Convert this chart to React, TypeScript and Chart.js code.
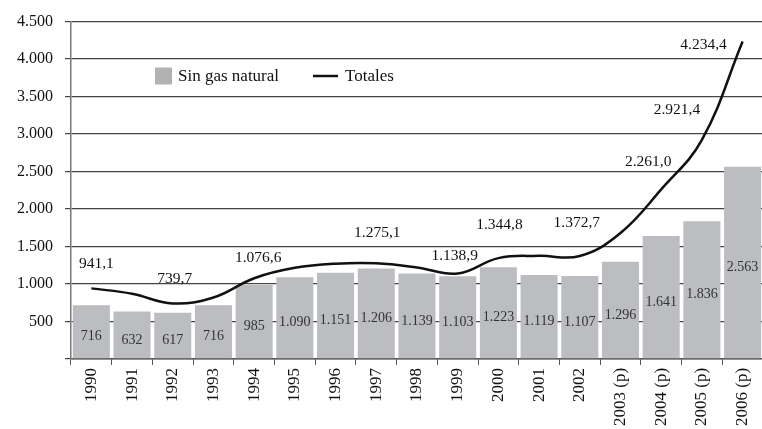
import React, { useEffect, useRef } from "react";
import { Chart, registerables } from "chart.js";

Chart.register(...registerables);

const categories = [
  "1990", "1991", "1992", "1993", "1994", "1995", "1996", "1997", "1998",
  "1999", "2000", "2001", "2002", "2003 (p)", "2004 (p)", "2005 (p)", "2006 (p)",
];
const sinGasNatural = [716, 632, 617, 716, 985, 1090, 1151, 1206, 1139, 1103, 1223, 1119, 1107, 1296, 1641, 1836, 2563];
const totales = [941.1, 870, 739.7, 820, 1076.6, 1215, 1270, 1275.1, 1220, 1138.9, 1344.8, 1375, 1372.7, 1680, 2261.0, 2921.4, 4234.4];
const labeledTotals = [0, 2, 4, 7, 9, 10, 12, 14, 15, 16];
const yTicks = [0, 500, 1000, 1500, 2000, 2500, 3000, 3500, 4000, 4500];

// label placement relative to the line point (styling only)
const labelOffsets: Record<number, [number, number]> = {
  0: [5, -24], 2: [2, -25], 4: [4, -20], 7: [1, -30], 9: [-3, -18],
  10: [1, -33], 12: [-3, -33], 14: [-13, -28], 15: [-25, -30], 16: [-39, 3],
};

const FONT = "'Liberation Serif', 'DejaVu Serif', serif";

function groupThousands(intPart: string): string {
  return intPart.replace(/\B(?=(\d{3})+(?!\d))/g, ".");
}
function fmtInt(v: number): string {
  return groupThousands(String(Math.round(v)));
}
function fmtDec(v: number): string {
  const s = v.toFixed(1);
  const [i, d] = s.split(".");
  return groupThousands(i) + "," + d;
}

const labelsPlugin = {
  id: "customLabels",
  afterDatasetsDraw(chart: any) {
    const ctx = chart.ctx;
    ctx.save();
    const barMeta = chart.getDatasetMeta(1);
    ctx.font = `14px ${FONT}`;
    ctx.fillStyle = "#333";
    ctx.textAlign = "center";
    ctx.textBaseline = "middle";
    barMeta.data.forEach((el: any, i: number) => {
      const y = (el.y + el.base) / 2 + 5;
      ctx.fillText(fmtInt(sinGasNatural[i]), el.x, y);
    });
    const lineMeta = chart.getDatasetMeta(0);
    ctx.font = `15.5px ${FONT}`;
    ctx.fillStyle = "#111";
    labeledTotals.forEach((i) => {
      const el = lineMeta.data[i];
      const off = labelOffsets[i] || [0, -27];
      ctx.fillText(fmtDec(totales[i]), el.x + off[0], el.y + off[1]);
    });
    const a = chart.chartArea;
    const lx = a.left + 84;
    const ly = 76;
    ctx.fillStyle = "#B2B2B2";
    ctx.fillRect(lx, ly - 8.5, 17, 17);
    ctx.fillStyle = "#111";
    ctx.font = `17px ${FONT}`;
    ctx.textAlign = "left";
    ctx.fillText("Sin gas natural", lx + 23, ly + 1);
    ctx.strokeStyle = "#111";
    ctx.lineWidth = 2.5;
    ctx.beginPath();
    ctx.moveTo(lx + 158, ly);
    ctx.lineTo(lx + 183, ly);
    ctx.stroke();
    ctx.fillText("Totales", lx + 190, ly + 1);
    ctx.restore();
  },
};

export default function App() {
  const canvasRef = useRef<HTMLCanvasElement | null>(null);

  useEffect(() => {
    document.body.style.margin = "0";
    const canvas = canvasRef.current;
    if (!canvas) return;
    const chart = new Chart(canvas, {
      type: "bar",
      data: {
        labels: categories,
        datasets: [
          {
            type: "line",
            label: "Totales",
            data: totales,
            borderColor: "#111",
            borderWidth: 2.5,
            pointRadius: 0,
            tension: 0.4,
            fill: false,
            order: 0,
          } as any,
          {
            type: "bar",
            label: "Sin gas natural",
            data: sinGasNatural,
            backgroundColor: "#BCBDC1",
            borderWidth: 0,
            barPercentage: 0.91,
            categoryPercentage: 1,
            order: 1,
          },
        ],
      },
      options: {
        responsive: false,
        animation: false,
        devicePixelRatio: 1,
        layout: { padding: { top: 10, left: 5, right: 0, bottom: 0 } },
        plugins: { legend: { display: false }, tooltip: { enabled: false } },
        scales: {
          x: {
            grid: { drawOnChartArea: false, tickLength: 6, color: "#555", offset: true },
            border: { color: "#555", width: 1.5 },
            ticks: {
              minRotation: 90,
              maxRotation: 90,
              padding: 3,
              color: "#111",
              font: { family: FONT, size: 17 },
              autoSkip: false,
            },
          },
          y: {
            min: 0,
            max: 4500,
            afterBuildTicks: (axis: any) => {
              axis.ticks = yTicks.map((v) => ({ value: v }));
            },
            grid: { color: "#444", lineWidth: 1.2, tickLength: 6 },
            border: { color: "#777", width: 1.5 },
            ticks: {
              padding: 12,
              color: "#111",
              font: { family: FONT, size: 16 },
              callback: (v: any) => (Number(v) === 0 ? "" : fmtInt(Number(v))),
            },
          },
        },
      } as any,
      plugins: [labelsPlugin],
    });
    return () => chart.destroy();
  }, []);

  return (
    <div style={{ position: "absolute", left: 0, top: 0, width: 762, height: 429, overflow: "hidden", background: "#fff" }}>
      <canvas ref={canvasRef} width={766} height={429} style={{ display: "block" }} />
    </div>
  );
}
